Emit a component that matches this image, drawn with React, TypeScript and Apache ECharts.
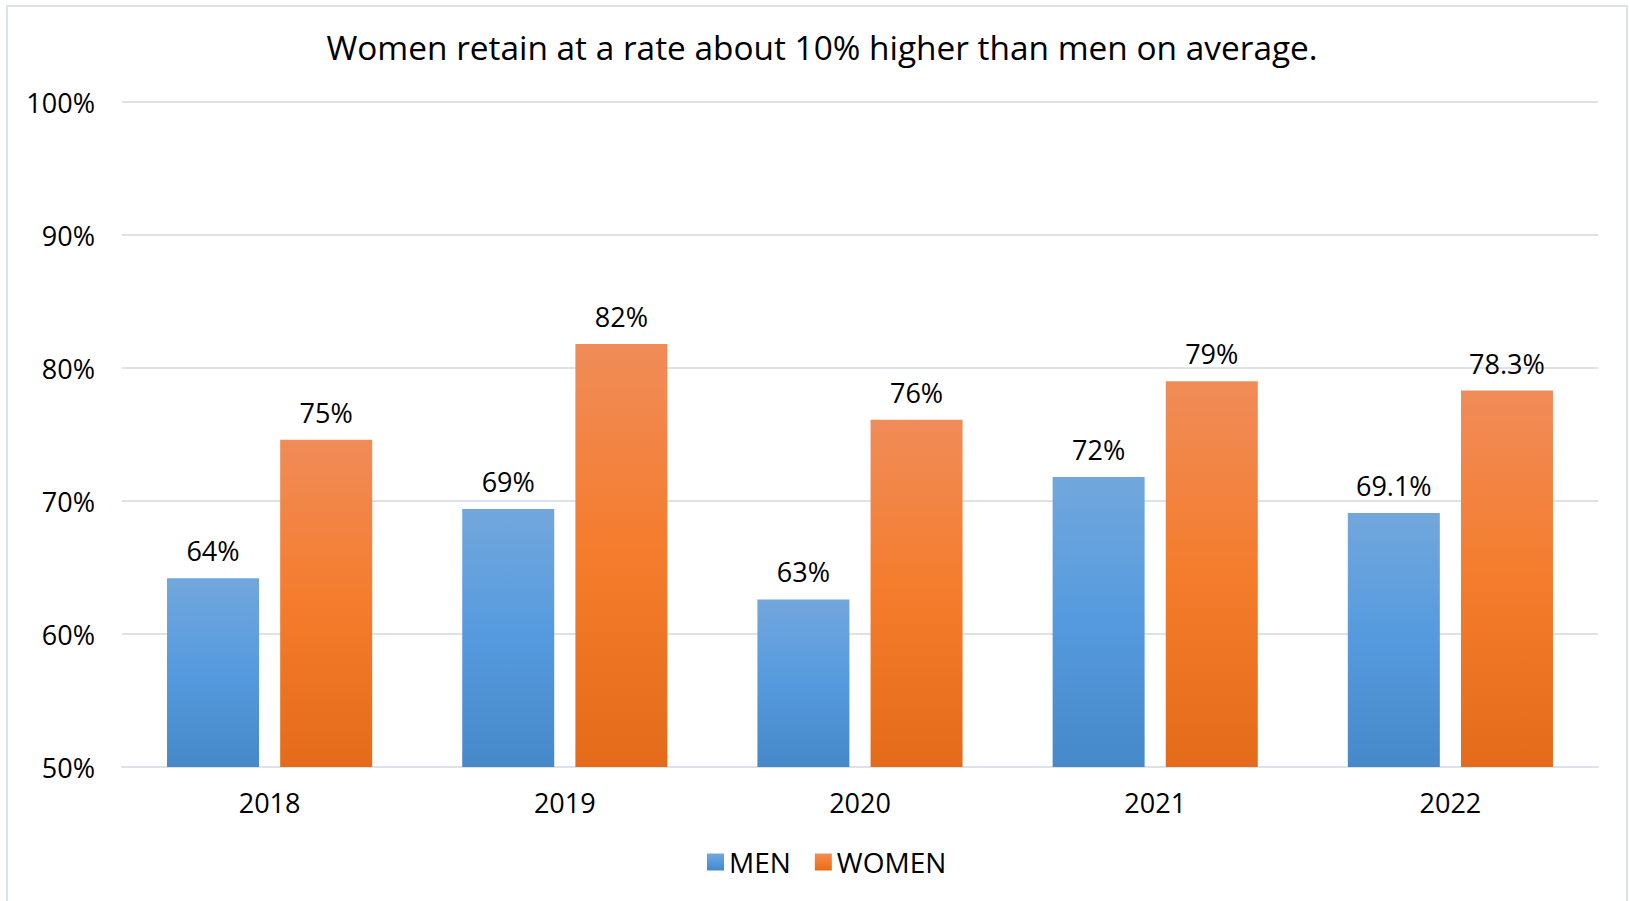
import React, { useEffect, useRef } from "react";
import * as echarts from "echarts";

const years = ["2018", "2019", "2020", "2021", "2022"];
const menValues = [64.2, 69.4, 62.6, 71.8, 69.1];
const womenValues = [74.6, 81.8, 76.1, 79.0, 78.3];
const menLabels = ["64%", "69%", "63%", "72%", "69.1%"];
const womenLabels = ["75%", "82%", "76%", "79%", "78.3%"];
const titleText = "Women retain at a rate about 10% higher than men on average.";

const FONT = "'Open Sans', 'Noto Sans', sans-serif";

export default function App() {
  const ref = useRef<HTMLDivElement>(null);
  useEffect(() => {
    const chart = echarts.init(ref.current!, null, { renderer: "svg" });
    const blue = new echarts.graphic.LinearGradient(0, 0, 0, 1, [
      { offset: 0, color: "#72a7dc" },
      { offset: 0.5, color: "#559ade" },
      { offset: 1, color: "#4689c9" },
    ]);
    const orange = new echarts.graphic.LinearGradient(0, 0, 0, 1, [
      { offset: 0, color: "#f08c59" },
      { offset: 0.5, color: "#f47c2c" },
      { offset: 1, color: "#e46b19" },
    ]);
    chart.setOption({
      animation: false,
      backgroundColor: "#ffffff",
      textStyle: { fontFamily: FONT },
      title: {
        text: titleText,
        left: 817,
        textAlign: "center",
        top: 25,
        textStyle: { fontFamily: FONT, fontSize: 33.4, fontWeight: "normal", color: "#000" },
      },
      graphic: [
        {
          type: "rect",
          shape: { x: 7, y: 6, width: 1620, height: 910 },
          style: { fill: "none", stroke: "#dde2e8", lineWidth: 2 },
          silent: true,
        },
      ],
      legend: {
        bottom: 20,
        left: 702,
        itemWidth: 17,
        itemHeight: 17,
        itemGap: 24,
        icon: "rect",
        textStyle: { fontFamily: FONT, fontSize: 28, color: "#000" },
        data: ["MEN", "WOMEN"],
      },
      grid: { left: 122, right: 32, top: 102, bottom: 134, containLabel: false },
      xAxis: {
        type: "category",
        data: years,
        axisLine: { show: true, lineStyle: { color: "#dde2e8", width: 2 } },
        axisTick: { show: false },
        axisLabel: { fontFamily: FONT, fontSize: 27, color: "#000", margin: 22 },
      },
      yAxis: {
        type: "value",
        min: 50,
        max: 100,
        interval: 10,
        axisLine: { show: false },
        axisTick: { show: false },
        splitLine: { lineStyle: { color: "#dde2e8", width: 2 } },
        axisLabel: {
          fontFamily: FONT,
          fontSize: 27,
          color: "#000",
          margin: 27,
          formatter: (v: number) => v + "%",
        },
      },
      series: [
        {
          name: "MEN",
          type: "bar",
          data: menValues,
          barWidth: 92,
          barGap: "23%",
          itemStyle: { color: blue },
          label: {
            show: true,
            position: "top",
            distance: 14,
            fontFamily: FONT,
            fontSize: 27,
            color: "#000",
            formatter: (p: any) => menLabels[p.dataIndex],
          },
        },
        {
          name: "WOMEN",
          type: "bar",
          data: womenValues,
          barWidth: 92,
          barGap: "23%",
          itemStyle: { color: orange },
          label: {
            show: true,
            position: "top",
            distance: 14,
            fontFamily: FONT,
            fontSize: 27,
            color: "#000",
            formatter: (p: any) => womenLabels[p.dataIndex],
          },
        },
      ],
    });
    return () => chart.dispose();
  }, []);
  return (
    <div
      ref={ref}
      style={{ position: "fixed", left: 0, top: 0, width: 1630, height: 901 }}
    />
  );
}
